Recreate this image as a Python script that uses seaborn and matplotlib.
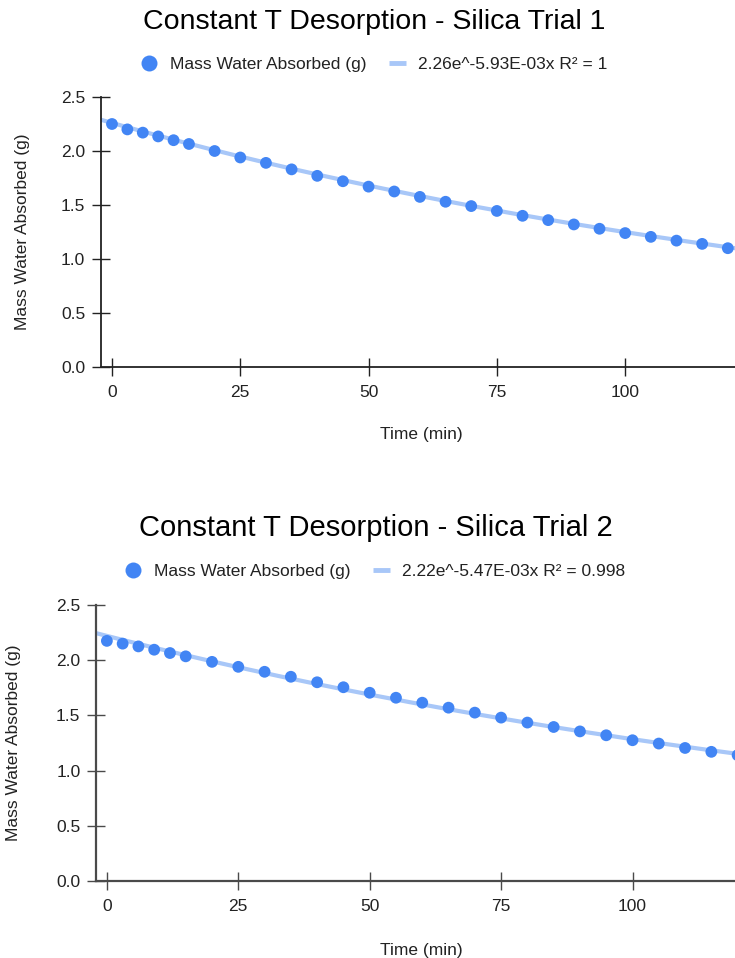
import numpy as np
import pandas as pd
import matplotlib
matplotlib.use("Agg")
import matplotlib.pyplot as plt
from matplotlib.lines import Line2D
import seaborn as sns

# Sampling times (min)
time_min = [0, 3, 6, 9, 12, 15, 20, 25, 30, 35, 40, 45, 50, 55, 60,
            65, 70, 75, 80, 85, 90, 95, 100, 105, 110, 115, 120]

# Mass of water absorbed (g), trial 1 and trial 2
mass_trial1 = [2.25, 2.20, 2.17, 2.135, 2.10, 2.065, 2.00, 1.94, 1.89, 1.83,
               1.77, 1.72, 1.67, 1.625, 1.575, 1.53, 1.49, 1.445, 1.40, 1.36,
               1.32, 1.28, 1.24, 1.205, 1.17, 1.14, 1.10]
mass_trial2 = [2.175, 2.15, 2.125, 2.095, 2.065, 2.035, 1.985, 1.94, 1.895,
               1.85, 1.80, 1.755, 1.705, 1.66, 1.615, 1.57, 1.525, 1.48, 1.435,
               1.395, 1.355, 1.32, 1.275, 1.245, 1.205, 1.17, 1.14]

# Exponential trendline parameters: a * e^(k x)
fit_a = [2.26, 2.22]
fit_k = [-5.93e-3, -5.47e-3]
fit_labels = ["2.26e^-5.93E-03x R² = 1", "2.22e^-5.47E-03x R² = 0.998"]
titles = ["Constant T Desorption - Silica Trial 1",
          "Constant T Desorption - Silica Trial 2"]
series_label = "Mass Water Absorbed (g)"
y_ticks = [0.0, 0.5, 1.0, 1.5, 2.0, 2.5]
x_ticks = [0, 25, 50, 75, 100]

sns.set_theme(style="white")
plt.rcParams["font.family"] = ["Liberation Sans", "DejaVu Sans"]

POINT = "#4285F4"
TREND = "#A8C7F8"
TEXT = "#222222"
FS = 12.5

W, H = 735, 958
fig = plt.figure(figsize=(W / 100, H / 100), dpi=100)

# axes boxes in pixels: left, top, bottom, x-limits
layouts = [
    dict(left=101, top=97, bottom=367, xlim=(-2.14, 121.4), axis="#222222",
         spine_w=1.3, title_x=374, title_y=22, title_fs=20.5,
         legend_y=64, legend_x=374, xlabel_y=435, ylabel_x=23),
    dict(left=96, top=605, bottom=881, xlim=(-2.07, 119.5), axis="#4a4a4a",
         spine_w=1.6, title_x=376, title_y=528, title_fs=21,
         legend_y=571, legend_x=375, xlabel_y=950, ylabel_x=14),
]

for i, (mass, lay) in enumerate(zip([mass_trial1, mass_trial2], layouts)):
    ax = fig.add_axes([lay["left"] / W, 1 - lay["bottom"] / H,
                       1 - lay["left"] / W, (lay["bottom"] - lay["top"]) / H])
    df = pd.DataFrame({"Time (min)": time_min, "Mass": mass})

    xs = np.linspace(lay["xlim"][0], lay["xlim"][1] + 2, 200)
    trend = pd.DataFrame({"x": xs, "y": fit_a[i] * np.exp(fit_k[i] * xs)})
    sns.lineplot(data=trend, x="x", y="y", ax=ax, color=TREND, lw=3.0,
                 zorder=2, legend=False)
    sns.scatterplot(data=df, x="Time (min)", y="Mass", ax=ax, color=POINT,
                    s=72, edgecolor="none", zorder=3, legend=False)

    ax.set_xlim(*lay["xlim"])
    ax.set_ylim(0, 2.5)
    ax.set_xticks(x_ticks)
    ax.set_yticks(y_ticks)
    ax.set_yticklabels([f"{v:.1f}" for v in y_ticks])
    ax.tick_params(axis="both", direction="inout", length=12.5, width=1,
                   color=lay["axis"], labelsize=FS, labelcolor=TEXT,
                   bottom=True, left=True)
    ax.tick_params(axis="x", pad=7)
    ax.tick_params(axis="y", pad=5)
    for side in ["top", "right"]:
        ax.spines[side].set_visible(False)
    for side in ["left", "bottom"]:
        ax.spines[side].set_color(lay["axis"])
        ax.spines[side].set_linewidth(lay["spine_w"])
    ax.set_xlabel("")
    ax.set_ylabel("")

    fig.text(lay["title_x"] / W, 1 - lay["title_y"] / H, titles[i],
             ha="center", va="center", fontsize=lay["title_fs"],
             color="#000000")
    fig.text(421 / W, 1 - lay["xlabel_y"] / H, "Time (min)",
             ha="center", va="center", fontsize=FS, color=TEXT)
    fig.text(lay["ylabel_x"] / W, 1 - (lay["top"] + lay["bottom"]) / 2 / H,
             series_label, ha="center", va="center", rotation=90,
             fontsize=FS, color=TEXT)

    handles = [
        Line2D([], [], marker="o", ls="none", color=POINT, markersize=11.5,
               markeredgewidth=0, label=series_label),
        Line2D([], [], color=TREND, lw=3.5, solid_capstyle="butt",
               label=fit_labels[i]),
    ]
    fig.legend(handles=handles, loc="center",
               bbox_to_anchor=(lay["legend_x"] / W, 1 - lay["legend_y"] / H),
               ncol=2, frameon=False, fontsize=FS, handlelength=1.0,
               handletextpad=0.7, columnspacing=1.3, labelcolor=TEXT)

fig.savefig("out.png", dpi=100)
